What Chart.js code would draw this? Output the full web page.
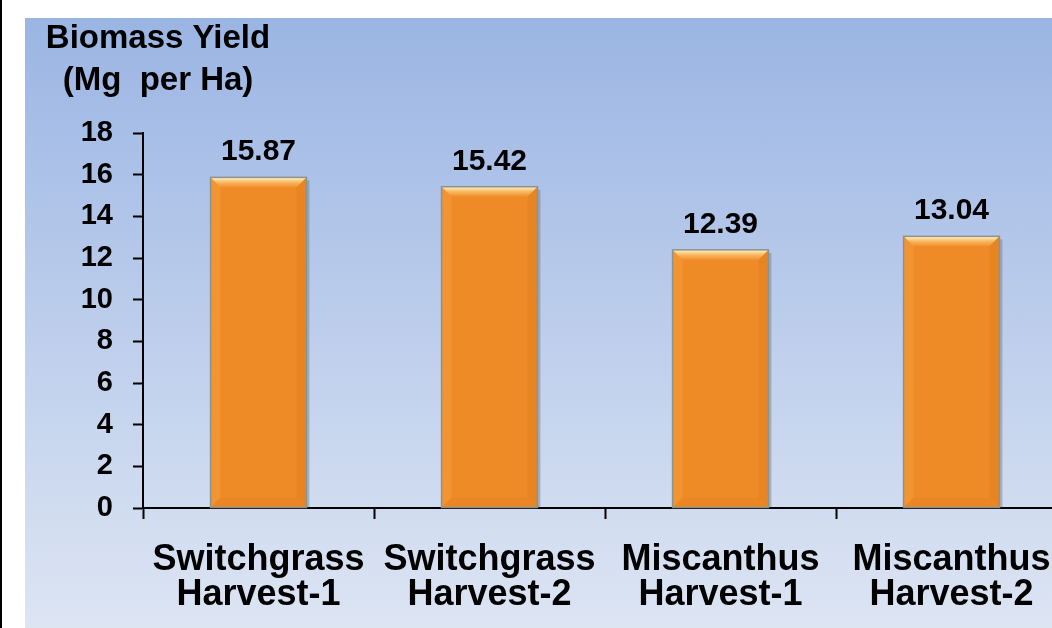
<!DOCTYPE html>
<html>
<head>
<meta charset="utf-8">
<script src="https://cdn.jsdelivr.net/npm/chart.js@4.4.0/dist/chart.umd.min.js"></script>
<style>
  html, body { margin: 0; padding: 0; background: #ffffff; overflow: hidden; }
  body { width: 1052px; height: 628px; position: relative; }
  #edge { position: absolute; left: 0; top: 0; width: 2px; height: 628px; background: #000; }
  #panel {
    position: absolute; left: 25px; top: 18px; width: 1052px; height: 610px;
    background: linear-gradient(to bottom, #9bb5e3 0%, #b9cbeb 45%, #dde5f3 100%);
  }
</style>
</head>
<body>
<div id="edge"></div>
<div id="panel"><canvas id="chart" width="1052" height="610"></canvas></div>
<script>
// Biomass yield per crop and harvest
const categories = [
  ['Switchgrass', 'Harvest-1'],
  ['Switchgrass', 'Harvest-2'],
  ['Miscanthus', 'Harvest-1'],
  ['Miscanthus', 'Harvest-2']
];
const yieldValues = [15.87, 15.42, 12.39, 13.04];
const titleLines = ['Biomass Yield', '(Mg  per Ha)'];
const yMin = 0, yMax = 18, yStep = 2;

const FONT = '"Liberation Sans", Arial, Helvetica, sans-serif';

// Axis title drawn above the value axis labels
const axisTitlePlugin = {
  id: 'axisTitle',
  afterDraw(chart) {
    const ctx = chart.ctx;
    const cx = chart.chartArea.left + 15;
    ctx.save();
    ctx.fillStyle = '#000';
    ctx.font = 'bold 33px ' + FONT;
    ctx.textAlign = 'center';
    ctx.textBaseline = 'alphabetic';
    ctx.fillText(titleLines[0], cx, 30);
    ctx.fillText(titleLines[1], cx, 72);
    ctx.restore();
  }
};

// Bevelled look for the bars plus value labels on top
const bevelPlugin = {
  id: 'bevel',
  afterDatasetsDraw(chart) {
    const ctx = chart.ctx;
    const meta = chart.getDatasetMeta(0);
    ctx.save();
    meta.data.forEach((bar, i) => {
      const p = bar.getProps(['x', 'y', 'base', 'width'], true);
      const l = p.x - p.width / 2, r = p.x + p.width / 2, t = p.y, b = p.base;
      const d = 10;
      // soft shadow on the right side
      ctx.fillStyle = 'rgba(90,100,110,0.35)';
      ctx.fillRect(r, t + 3, 3, b - t - 3);
      // top bevel
      const g = ctx.createLinearGradient(0, t, 0, t + d);
      g.addColorStop(0, '#fff4c8');
      g.addColorStop(0.5, '#f8b860');
      g.addColorStop(1, '#f0902c');
      ctx.fillStyle = g;
      ctx.beginPath();
      ctx.moveTo(l, t); ctx.lineTo(r, t); ctx.lineTo(r - d, t + d); ctx.lineTo(l + d, t + d);
      ctx.closePath(); ctx.fill();
      // left bevel
      ctx.fillStyle = 'rgba(250,165,70,0.35)';
      ctx.beginPath();
      ctx.moveTo(l, t); ctx.lineTo(l + d, t + d); ctx.lineTo(l + d, b - d); ctx.lineTo(l, b);
      ctx.closePath(); ctx.fill();
      // right bevel
      ctx.fillStyle = 'rgba(215,120,25,0.3)';
      ctx.beginPath();
      ctx.moveTo(r, t); ctx.lineTo(r - d, t + d); ctx.lineTo(r - d, b - d); ctx.lineTo(r, b);
      ctx.closePath(); ctx.fill();
      // bottom bevel
      ctx.fillStyle = 'rgba(215,120,25,0.2)';
      ctx.beginPath();
      ctx.moveTo(l, b); ctx.lineTo(l + d, b - d); ctx.lineTo(r - d, b - d); ctx.lineTo(r, b);
      ctx.closePath(); ctx.fill();
      // outline
      ctx.strokeStyle = '#8a938e';
      ctx.lineWidth = 1.5;
      ctx.strokeRect(l, t, r - l, b - t);
      // value label
      ctx.fillStyle = '#000';
      ctx.font = 'bold 30px ' + FONT;
      ctx.textAlign = 'center';
      ctx.textBaseline = 'alphabetic';
      ctx.fillText(yieldValues[i].toFixed(2), p.x, t - 17);
    });
    ctx.restore();
  }
};

new Chart(document.getElementById('chart'), {
  type: 'bar',
  data: {
    labels: categories,
    datasets: [{
      data: yieldValues,
      backgroundColor: '#ef8b27',
      borderWidth: 0,
      barPercentage: 0.415,
      categoryPercentage: 1.0
    }]
  },
  options: {
    responsive: false,
    animation: false,
    devicePixelRatio: 1,
    layout: { padding: { top: 115, right: 10, left: 0, bottom: 0 } },
    plugins: {
      legend: { display: false },
      tooltip: { enabled: false }
    },
    scales: {
      x: {
        grid: {
          offset: true,
          drawOnChartArea: false,
          drawTicks: true,
          tickLength: 11,
          tickWidth: 2,
          color: '#000'
        },
        border: { display: true, color: '#000', width: 2 },
        ticks: {
          color: '#000',
          font: { family: FONT, size: 36, weight: 'bold', lineHeight: 0.97 },
          padding: 24,
          maxRotation: 0,
          autoSkip: false
        },
        afterFit(axis) { axis.height = 120; }
      },
      y: {
        min: yMin,
        max: yMax,
        grid: {
          drawOnChartArea: false,
          drawTicks: true,
          tickLength: 10,
          tickWidth: 2,
          color: '#000'
        },
        border: { display: true, color: '#000', width: 2 },
        ticks: {
          stepSize: yStep,
          color: '#000',
          font: { family: FONT, size: 29, weight: 'bold' },
          padding: 20
        },
        afterFit(axis) { axis.width = 118; }
      }
    }
  },
  plugins: [axisTitlePlugin, bevelPlugin]
});
</script>
</body>
</html>
